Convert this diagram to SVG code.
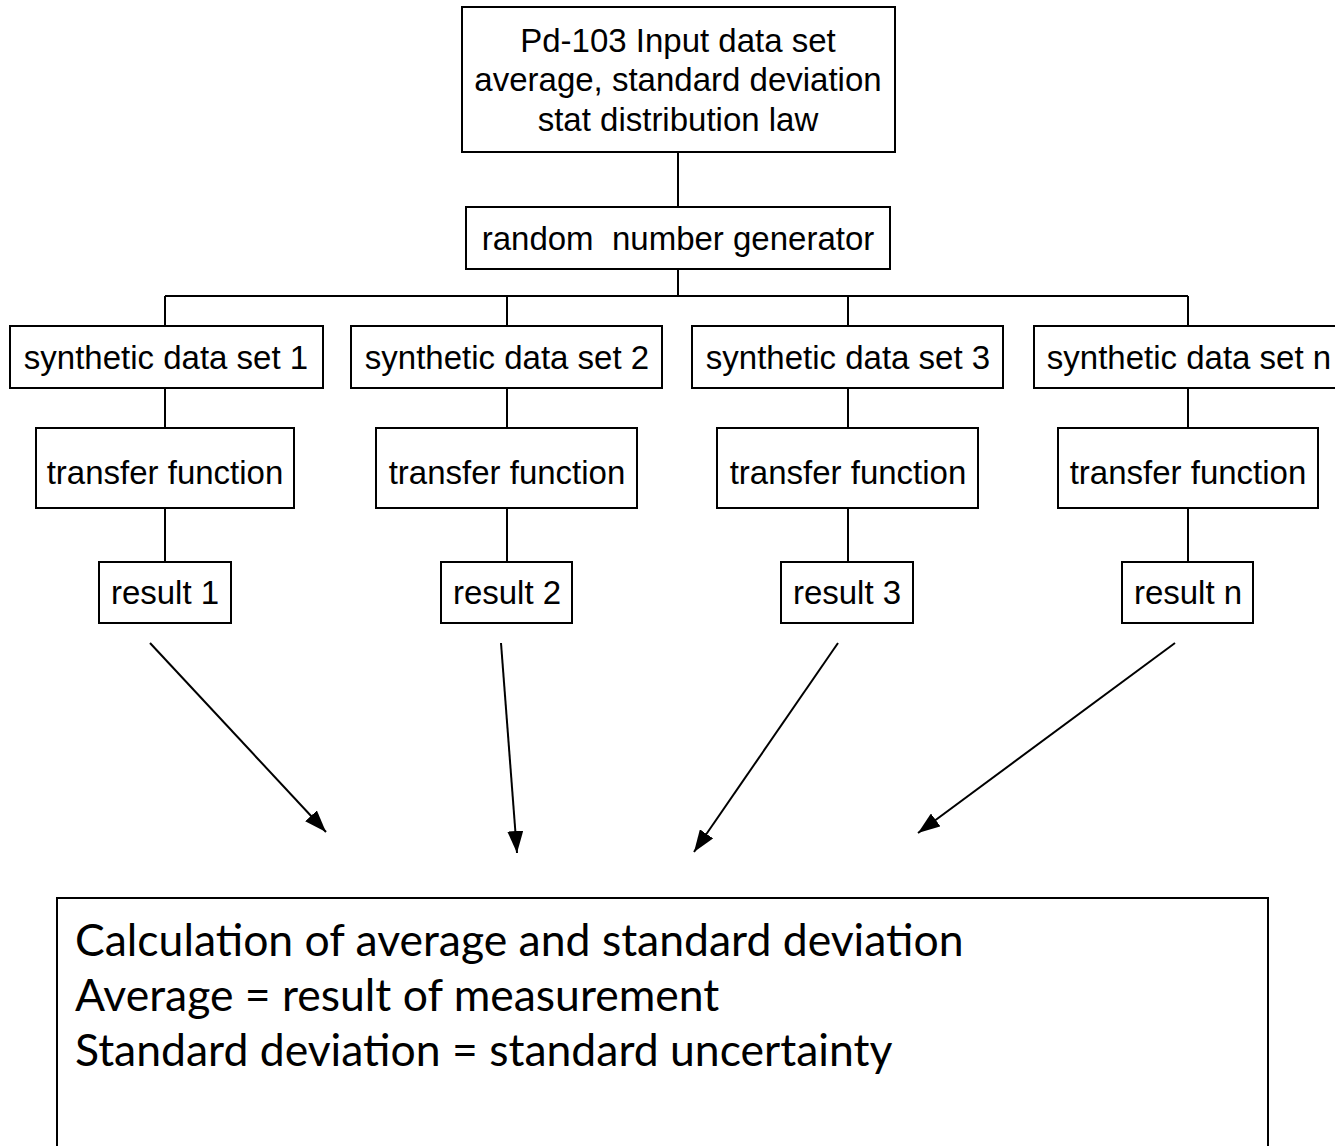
<svg xmlns="http://www.w3.org/2000/svg" width="1335" height="1146" viewBox="0 0 1335 1146">
<style>
.box{fill:#fff;stroke:#000;stroke-width:2}
.t{font-family:"Liberation Sans",Arial,sans-serif;font-size:33px;fill:#000;text-anchor:middle}
.c{fill:none;stroke:#000;stroke-width:2}
.b{font-family:Lato,"Open Sans",sans-serif;font-size:44.5px;fill:#000}
</style>
<defs>
<marker id="ah" markerUnits="userSpaceOnUse" markerWidth="24" markerHeight="16" refX="22" refY="8" orient="auto">
<path d="M0,0 L22,8 L0,16 Z" fill="#000"/>
</marker>
</defs>
<rect width="1335" height="1146" fill="#fff"/>
<g id="connectors">
<path class="c" d="M678,152 V207 M678,269 V296 M165,296 H1188 M165,296 V326 M507,296 V326 M848,296 V326 M1188,296 V326"/>
<path class="c" d="M165,388 V428 M507,388 V428 M848,388 V428 M1188,388 V428"/>
<path class="c" d="M165,508 V562 M507,508 V562 M848,508 V562 M1188,508 V562"/>
<line class="c" x1="150" y1="643" x2="326" y2="832" marker-end="url(#ah)"/>
<line class="c" x1="501" y1="643" x2="517" y2="853" marker-end="url(#ah)"/>
<line class="c" x1="838" y1="643" x2="694" y2="852" marker-end="url(#ah)"/>
<line class="c" x1="1175" y1="643" x2="918" y2="833" marker-end="url(#ah)"/>
</g>
<g id="input">
<rect class="box" x="462" y="7" width="433" height="145"/>
<text class="t" x="678" y="52">Pd-103 Input data set</text>
<text class="t" x="678" y="91">average, standard deviation</text>
<text class="t" x="678" y="131">stat distribution law</text>
</g>
<g id="rng">
<rect class="box" x="466" y="207" width="424" height="62"/>
<text class="t" x="678" y="250" xml:space="preserve">random  number generator</text>
</g>
<g id="syn1"><rect class="box" x="10" y="326" width="313" height="62"/><text class="t" x="166" y="369">synthetic data set 1</text></g>
<g id="syn2"><rect class="box" x="351" y="326" width="311" height="62"/><text class="t" x="507" y="369">synthetic data set 2</text></g>
<g id="syn3"><rect class="box" x="692" y="326" width="311" height="62"/><text class="t" x="848" y="369">synthetic data set 3</text></g>
<g id="synn"><rect class="box" x="1034" y="326" width="320" height="62"/><text class="t" x="1189" y="369">synthetic data set n</text></g>
<g id="tf1"><rect class="box" x="36" y="428" width="258" height="80"/><text class="t" x="165" y="484">transfer function</text></g>
<g id="tf2"><rect class="box" x="376" y="428" width="261" height="80"/><text class="t" x="507" y="484">transfer function</text></g>
<g id="tf3"><rect class="box" x="717" y="428" width="261" height="80"/><text class="t" x="848" y="484">transfer function</text></g>
<g id="tfn"><rect class="box" x="1058" y="428" width="260" height="80"/><text class="t" x="1188" y="484">transfer function</text></g>
<g id="res1"><rect class="box" x="99" y="562" width="132" height="61"/><text class="t" x="165" y="604">result 1</text></g>
<g id="res2"><rect class="box" x="441" y="562" width="131" height="61"/><text class="t" x="507" y="604">result 2</text></g>
<g id="res3"><rect class="box" x="781" y="562" width="132" height="61"/><text class="t" x="847" y="604">result 3</text></g>
<g id="resn"><rect class="box" x="1122" y="562" width="131" height="61"/><text class="t" x="1188" y="604">result n</text></g>
<g id="calc">
<rect class="box" x="57" y="898" width="1211" height="260"/>
<text class="b" x="75" y="956">Calculation of average and standard deviation</text>
<text class="b" x="75" y="1011">Average = result of measurement</text>
<text class="b" x="75" y="1066">Standard deviation = standard uncertainty</text>
</g>
</svg>
